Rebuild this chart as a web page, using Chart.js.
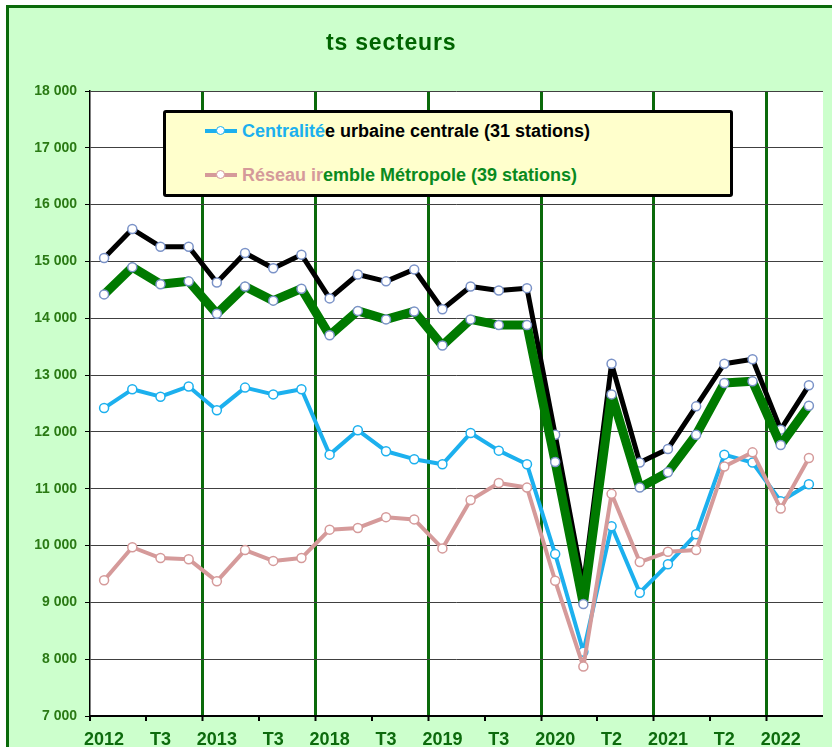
<!DOCTYPE html>
<html lang="fr">
<head>
<meta charset="utf-8">
<title>ts secteurs</title>
<script src="https://cdn.jsdelivr.net/npm/chart.js@4"></script>
<style>
  html, body { margin: 0; padding: 0; background: #fff; overflow: hidden; }
  body { width: 832px; height: 747px; position: relative; font-family: "Liberation Sans", Arial, sans-serif; }
  #frame {
    position: absolute; left: 6px; top: 5px; width: 900px; height: 800px;
    border-left: 3px solid #0a6a0a; border-top: 3px solid #0a6a0a;
    background: #ccffcc;
  }
  #wrap { position: absolute; left: 0; top: 0; width: 832px; height: 747px; }
  #title {
    position: absolute; left: 326px; top: 31px; line-height: 22px;
    font-size: 23px; font-weight: bold; letter-spacing: 0.8px; color: #006400;
  }
  #legend {
    position: absolute; left: 163px; top: 110px; width: 570px; height: 87px;
    box-sizing: border-box; border: 3px solid #000; border-radius: 3px;
    background: #ffffcc; font-size: 18px; font-weight: bold;
  }
  .row { position: absolute; left: 39px; height: 20px; line-height: 20px; white-space: nowrap; }
  .mark { position: absolute; left: 0; top: 0; width: 32px; height: 20px; }
  .mark .bar { position: absolute; left: 0; top: 8px; width: 32px; height: 4px; }
  .mark .dot {
    position: absolute; left: 11px; top: 5px; width: 7px; height: 7px;
    border-radius: 50%; background: #fff; border: 1.5px solid;
  }
  .txt { position: absolute; left: 37px; top: 0; }
</style>
</head>
<body>
<div id="frame"></div>
<div id="wrap"><canvas id="chart"></canvas></div>
<div id="title">ts secteurs</div>
<div id="legend">
  <div class="row" style="top:8px">
    <span class="mark"><span class="bar" style="background:#1cb0ee"></span><span class="dot" style="border-color:#1cb0ee"></span></span>
    <span class="txt"><span style="color:#1cb0ee">Centralité</span><span style="color:#000">e urbaine centrale (31 stations)</span></span>
  </div>
  <div class="row" style="top:52px">
    <span class="mark"><span class="bar" style="background:#d59a9a"></span><span class="dot" style="border-color:#d59a9a"></span></span>
    <span class="txt"><span style="color:#d59a9a">Réseau ir</span><span style="color:#0a8a1e">emble Métropole (39 stations)</span></span>
  </div>
</div>

<script>
  // quarters shown on the axis (the picture jumps from 2013 to 2018)
  const quarters = [
    "2012 T1", "2012 T2", "2012 T3", "2012 T4",
    "2013 T1", "2013 T2", "2013 T3", "2013 T4",
    "2018 T1", "2018 T2", "2018 T3", "2018 T4",
    "2019 T1", "2019 T2", "2019 T3", "2019 T4",
    "2020 T1", "2020 T2", "2020 T3", "2020 T4",
    "2021 T1", "2021 T2", "2021 T3", "2021 T4",
    "2022 T1", "2022 T2"
  ];
  // what the axis actually prints, one entry per quarter
  const tickLabels = [
    "2012", "", "T3", "", "2013", "", "T3", "",
    "2018", "", "T3", "", "2019", "", "T3", "",
    "2020", "", "T2", "", "2021", "", "T2", "",
    "2022", ""
  ];

  const urbaineCentrale = [15060, 15570, 15260, 15260, 14630, 15150, 14880, 15120,
    14350, 14770, 14650, 14860, 14160, 14560, 14490, 14530,
    11950, 9300, 13200, 11460, 11700, 12450, 13200, 13280, 12040, 12820];
  const ensembleMetropole = [14420, 14900, 14600, 14650, 14080, 14560, 14310, 14520,
    13700, 14130, 13980, 14120, 13520, 13980, 13880, 13880,
    11470, 8970, 12660, 11020, 11290, 11950, 12860, 12890, 11770, 12460];
  const centralite = [12420, 12750, 12620, 12800, 12380, 12780, 12660, 12750,
    11600, 12030, 11660, 11520, 11430, 11980, 11670, 11430,
    9850, 8130, 10340, 9170, 9670, 10200, 11600, 11460, 10780, 11080];
  const reseau = [9390, 9970, 9780, 9760, 9370, 9920, 9730, 9780,
    10280, 10310, 10500, 10460, 9950, 10800, 11100, 11020,
    9380, 7870, 10910, 9710, 9890, 9920, 11390, 11640, 10650, 11540];

  const yTicks = { min: 7000, max: 18000, step: 1000 };

  const fmtThousands = function (v) {
    return String(v).replace(/\B(?=(\d{3})+(?!\d))/g, " ");
  };

  // white plot area on the green chart background
  const plotBg = {
    id: "plotBg",
    beforeDraw(chart) {
      const { ctx, chartArea: a } = chart;
      ctx.save();
      ctx.fillStyle = "#fff";
      ctx.fillRect(a.left, a.top, a.right - a.left, a.bottom - a.top);
      ctx.restore();
    }
  };

  const series = function (label, data, color, width, markBorder) {
    return {
      label: label,
      data: data,
      borderColor: color,
      borderWidth: width,
      borderJoinStyle: "round",
      borderCapStyle: "round",
      tension: 0,
      pointRadius: 4.5,
      pointBorderWidth: 1.5,
      pointBackgroundColor: "#fff",
      pointBorderColor: markBorder || color
    };
  };

  const n = quarters.length;

  new Chart(document.getElementById("chart"), {
    type: "line",
    data: {
      labels: quarters,
      // first dataset is drawn on top
      datasets: [
        series("Réseau", reseau, "#d59a9a", 4),
        series("Réseau ensemble Métropole (39 stations)", ensembleMetropole, "#007a00", 9, "#7b93c8"),
        series("Centralité urbaine centrale (31 stations)", urbaineCentrale, "#000", 5, "#7b93c8"),
        series("Centralité", centralite, "#1cb0ee", 4)
      ]
    },
    options: {
      responsive: true,
      maintainAspectRatio: false,
      animation: false,
      layout: { padding: { left: 0, top: 91, right: 9, bottom: 0 } },
      plugins: {
        legend: { display: false },
        tooltip: { enabled: false },
        title: { display: false }
      },
      scales: {
        x: {
          offset: true,
          afterFit: function (scale) { scale.height = 31; },
          grid: {
            offset: true,
            drawOnChartArea: true,
            color: function (c) {
              return (c.index > 0 && c.index < n && c.index % 4 === 0) ? "#0a6a0a" : "transparent";
            },
            lineWidth: function (c) {
              return (c.index > 0 && c.index < n && c.index % 4 === 0) ? 3 : 0;
            },
            tickColor: function (c) {
              return c.index % 2 === 0 ? "#000" : "transparent";
            },
            tickLength: 5,
            tickWidth: 2
          },
          border: { display: true, color: "#000", width: 2 },
          ticks: {
            autoSkip: false,
            maxRotation: 0,
            padding: 8,
            color: "#0d6b0d",
            font: { family: "'Liberation Sans', Arial, sans-serif", size: 18, weight: "bold" },
            callback: function (value, index) { return tickLabels[index]; }
          }
        },
        y: {
          min: yTicks.min,
          max: yTicks.max,
          afterFit: function (scale) { scale.width = 90; },
          grid: {
            color: "#404040",
            lineWidth: 1,
            tickColor: "#000",
            tickLength: 5
          },
          border: { display: true, color: "#000", width: 1.5 },
          ticks: {
            stepSize: yTicks.step,
            padding: 8,
            color: "#2a7a14",
            font: { family: "'Liberation Sans', Arial, sans-serif", size: 14, weight: "bold" },
            callback: function (v) { return fmtThousands(v); }
          }
        }
      }
    },
    plugins: [plotBg]
  });
</script>
</body>
</html>
